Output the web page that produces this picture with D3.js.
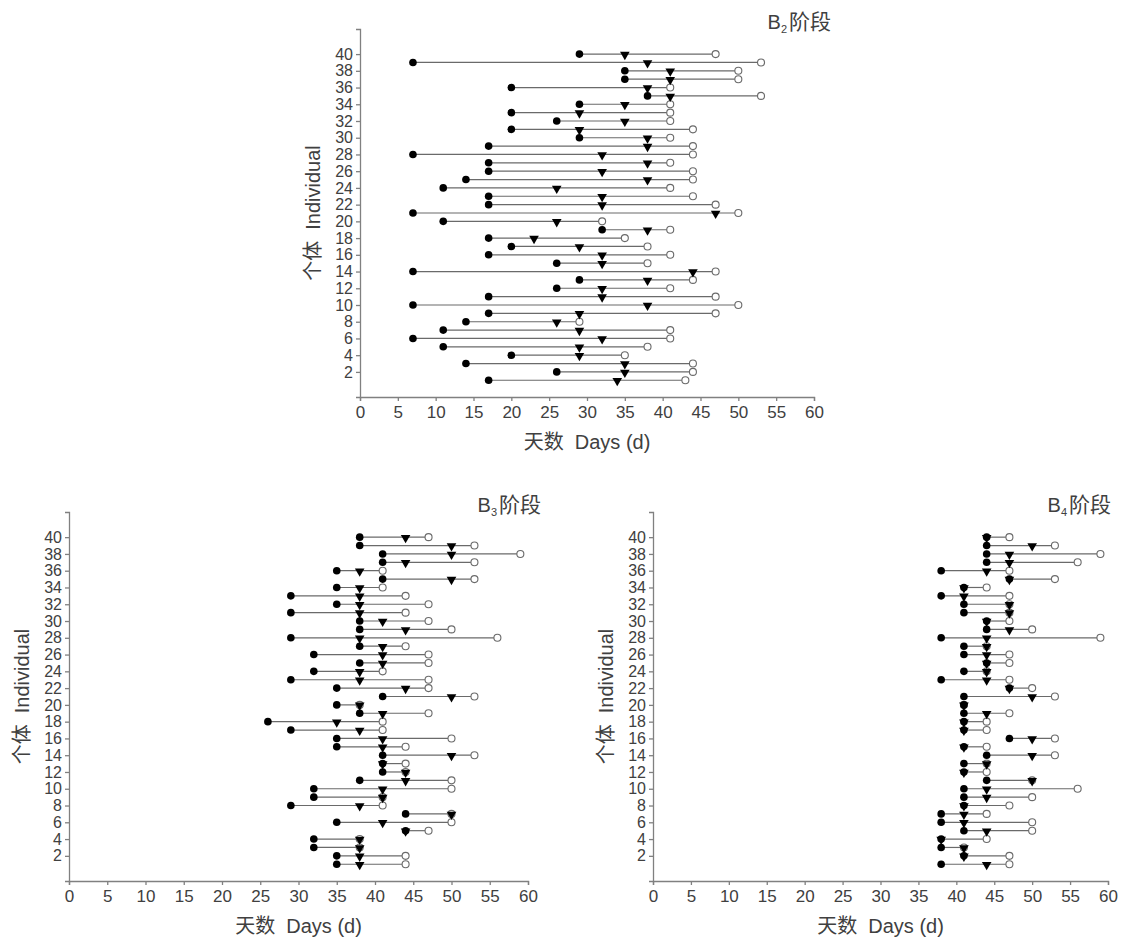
<!DOCTYPE html>
<html lang="zh">
<head>
<meta charset="utf-8">
<title>B2–B4 阶段 个体天数</title>
<style>
  html,body { margin:0; padding:0; background:#fff; }
  svg       { display:block; }
  text      { font-family:"Liberation Sans", Arial, "Noto Sans CJK SC", sans-serif; fill:#404040; }
  .cjk      { font-family:"Noto Sans CJK SC", sans-serif; }
  .axis path, .axis line { stroke:#808080; stroke-width:1.3px; }
  .seg      { stroke:#6a6a6a; stroke-width:1.2px; }
</style>
<script src="https://d3js.org/d3.v7.min.js"></script>
</head>
<body>
<svg width="1130" height="942"></svg>
<script>
// ---- data ---------------------------------------------------------
const individuals = [1,2,3,4,5,6,7,8,9,10,11,12,13,14,15,16,17,18,19,20,
                     21,22,23,24,25,26,27,28,29,30,31,32,33,34,35,36,37,38,39,40];
const xTicks = [0,5,10,15,20,25,30,35,40,45,50,55,60];
const yTicks = [2,4,6,8,10,12,14,16,18,20,22,24,26,28,30,32,34,36,38,40];

// B2 stage: start (●), middle (▼), end (○) day for individual 1..40
const b2Start = [17,26,14,20,11,7,11,14,17,7,17,26,29,7,26,17,20,17,32,11,
                 7,17,17,11,14,17,17,7,17,29,20,26,20,29,38,20,35,35,7,29];
const b2Mid   = [34,35,35,29,29,32,29,26,29,38,32,32,38,44,32,32,29,23,38,26,
                 47,32,32,26,38,32,38,32,38,38,29,35,29,35,41,38,41,41,38,35];
const b2End   = [43,44,44,35,38,41,41,29,47,50,47,41,44,47,38,41,38,35,41,32,
                 50,47,44,41,44,44,41,44,44,41,44,41,41,41,53,41,50,50,53,47];

// B3 stage
const b3Start = [35,35,32,32,44,35,44,29,32,32,38,41,41,41,35,35,29,26,38,35,
                 41,35,29,32,38,32,38,29,38,38,29,35,29,35,41,35,41,41,38,38];
const b3Mid   = [38,38,38,38,44,41,50,38,41,41,44,44,41,50,41,41,38,35,41,38,
                 50,44,38,38,41,41,41,38,44,41,38,38,38,38,50,38,44,50,50,44];
const b3End   = [44,44,38,38,47,50,50,41,41,50,50,44,44,53,44,50,41,41,47,38,
                 53,47,47,41,47,47,44,56,50,47,44,47,44,41,53,41,53,59,53,47];

// B4 stage
const b4Start = [38,41,38,38,41,38,38,41,41,41,44,41,41,44,41,47,41,41,41,41,
                 41,47,38,41,44,41,41,38,44,44,41,41,38,41,47,38,44,44,44,44];
const b4Mid   = [44,41,41,38,44,41,41,41,44,44,50,41,44,50,41,50,41,41,44,41,
                 50,47,44,44,44,44,44,44,47,44,47,47,41,41,47,44,47,47,50,44];
const b4End   = [47,47,41,44,50,50,44,47,50,56,50,44,44,53,44,53,44,44,47,41,
                 53,50,47,44,47,47,44,59,50,47,47,47,47,44,53,47,56,59,53,47];

// ---- layout -------------------------------------------------------
const svg = d3.select("svg");

const panels = [
  { sub:"2", start:b2Start, mid:b2Mid, end:b2End,
    left:360, right:814, top:29,  bottom:397, titleX:831,  titleY:29 },
  { sub:"3", start:b3Start, mid:b3Mid, end:b3End,
    left:69,  right:528, top:512, bottom:881, titleX:541,  titleY:512 },
  { sub:"4", start:b4Start, mid:b4Mid, end:b4End,
    left:653, right:1108, top:512, bottom:881, titleX:1111, titleY:512 }
];

panels.forEach(drawPanel);

function drawPanel(p) {
  const x = d3.scaleLinear().domain([0, 60]).range([p.left, p.right]);
  const y = d3.scaleLinear().domain([-1, 43]).range([p.bottom, p.top]);
  const g = svg.append("g");

  // axes
  const xa = g.append("g").attr("class", "axis")
      .attr("transform", `translate(0,${p.bottom})`)
      .call(d3.axisBottom(x).tickValues(xTicks).tickSizeOuter(0).tickSize(4).tickPadding(5));
  xa.selectAll("text").style("font-size", "17px").attr("fill", "#404040");

  const ya = g.append("g").attr("class", "axis")
      .attr("transform", `translate(${p.left},0)`)
      .call(d3.axisLeft(y).tickValues(yTicks).tickSizeOuter(0).tickSize(4).tickPadding(3));
  ya.selectAll("text").style("font-size", "16px").attr("fill", "#404040");

  // rows
  const rows = individuals.map((id, i) => ({ id, s:p.start[i], m:p.mid[i], e:p.end[i] }));

  g.append("g").selectAll("line").data(rows).join("line")
      .attr("class", "seg")
      .attr("x1", d => x(d.s)).attr("x2", d => x(d.e))
      .attr("y1", d => y(d.id)).attr("y2", d => y(d.id));

  g.append("g").selectAll("circle").data(rows).join("circle")
      .attr("cx", d => x(d.e)).attr("cy", d => y(d.id)).attr("r", 3.5)
      .attr("fill", "#fff").attr("stroke", "#6a6a6a").attr("stroke-width", 1.1);

  const tri = d3.symbol().type(d3.symbolTriangle).size(40);
  g.append("g").selectAll("path").data(rows).join("path")
      .attr("d", tri)
      .attr("transform", d => `translate(${x(d.m)},${y(d.id) + 0.5}) rotate(180)`)
      .attr("fill", "#000");

  g.append("g").selectAll("circle").data(rows).join("circle")
      .attr("cx", d => x(d.s)).attr("cy", d => y(d.id)).attr("r", 3.8)
      .attr("fill", "#000");

  // axis titles
  const xt = g.append("text")
      .attr("x", (p.left + p.right) / 2).attr("y", p.bottom + 52)
      .attr("text-anchor", "middle").style("font-size", "20px");
  xt.append("tspan").attr("class", "cjk").text("天数");
  xt.append("tspan").text("  Days (d)").style("white-space", "pre");

  const yt = g.append("text")
      .attr("transform", `translate(${p.left - 40},${(p.top + p.bottom) / 2}) rotate(-90)`)
      .attr("text-anchor", "middle").style("font-size", "20px");
  yt.append("tspan").attr("class", "cjk").text("个体");
  yt.append("tspan").text("  Individual").style("white-space", "pre");

  // stage title
  const tt = g.append("text")
      .attr("x", p.titleX).attr("y", p.titleY)
      .attr("text-anchor", "end");
  tt.append("tspan").text("B").style("font-size", "20px");
  tt.append("tspan").text(p.sub).attr("dy", 4).style("font-size", "11px");
  tt.append("tspan").attr("class", "cjk").text("阶段").attr("dy", -4).attr("dx", 2).style("font-size", "21px");
}
</script>
</body>
</html>
